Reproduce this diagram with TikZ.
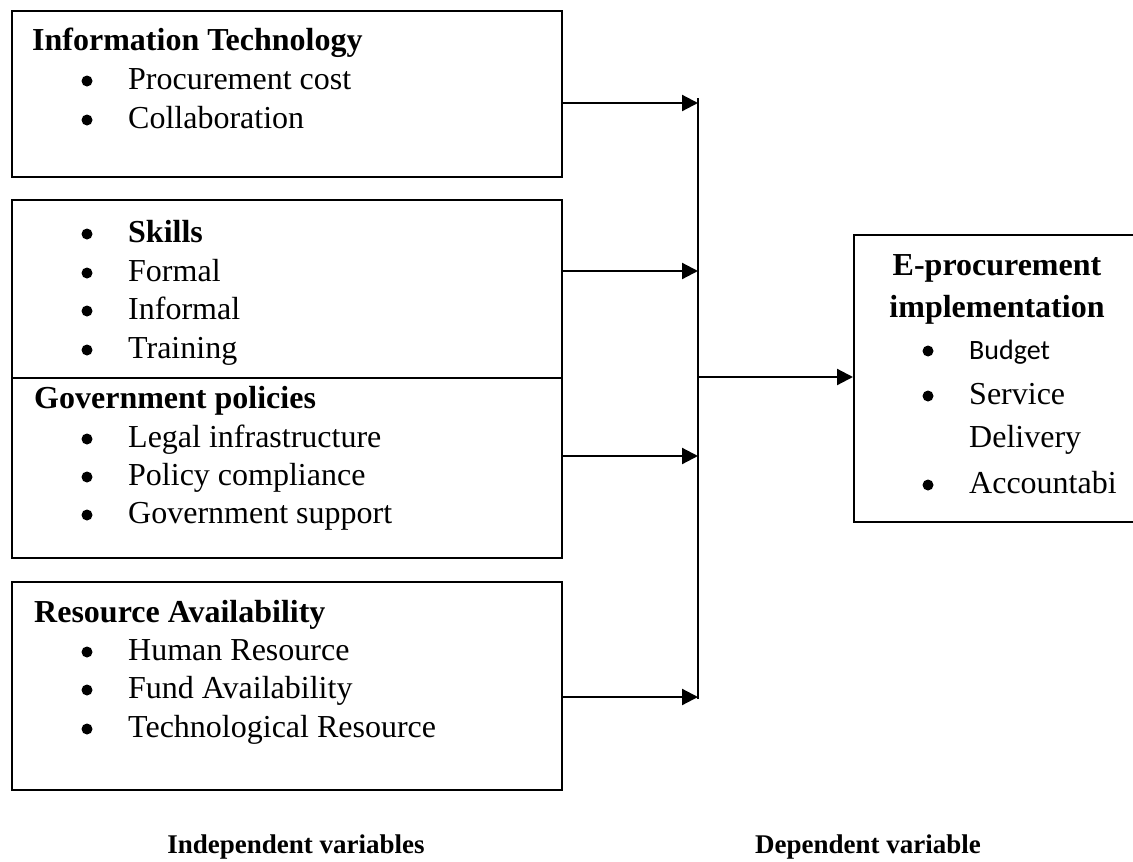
\documentclass[tikz,border=0pt]{standalone}
\usepackage{fontspec}
\setmainfont{Liberation Serif}
\newfontfamily\calib{Carlito}
\usepackage{tikz}
\usetikzlibrary{arrows.meta}

% one bullet line: name, baseline y, text
\newcommand{\itm}[4][87]{%
\node[bul] (#2b) at (#1,#3-8) {};
\node[txt] (#2) at (#1+41,#3) {#4};}

\begin{document}
\begin{tikzpicture}[x=1pt,y=-1pt,
box/.style={draw,line width=1.8pt,inner sep=0pt,anchor=north west},
txt/.style={anchor=base west,inner sep=0pt,font=\fontsize{32}{38}\selectfont},
hd/.style={txt,font=\fontsize{32}{38}\selectfont\bfseries},
bul/.style={circle,fill,inner sep=0pt,minimum size=11pt},
arr/.style={line width=2.2pt,-{Triangle[length=16pt,width=16pt]}},
foot/.style={anchor=base,inner sep=0pt,font=\fontsize{27}{32}\selectfont\bfseries}]
\useasboundingbox (0,0) rectangle (1133,862);
\clip (0,0) rectangle (1133,862);

% boxes on the left
\node[box,minimum width=550pt,minimum height=166pt] (it) at (11,10) {};
\node[box,minimum width=550pt,minimum height=178pt] (sk) at (11,199) {};
\node[box,minimum width=550pt,minimum height=180pt] (gp) at (11,377) {};
\node[box,minimum width=550pt,minimum height=208pt] (ra) at (11,581) {};
% box on the right
\node[box,minimum width=300pt,minimum height=287pt] (ep) at (853,234) {};

\node[hd] (ith) at (32,50) {Information Technology};
\itm{it1}{89}{Procurement cost}
\itm{it2}{128}{Collaboration}

\itm{sk1}{242}{\bfseries Skills}
\itm{sk2}{281}{Formal}
\itm{sk3}{319}{Informal}
\itm{sk4}{358}{Training}

\node[hd] (gph) at (34,408) {Government policies};
\itm{gp1}{447}{Legal infrastructure}
\itm{gp2}{485}{Policy compliance}
\itm{gp3}{523}{Government support}

\node[hd] (rah) at (34,622) {Resource Availability};
\itm{ra1}{660}{Human Resource}
\itm{ra2}{698}{Fund Availability}
\itm{ra3}{737}{Technological Resource}

\node[hd,anchor=base] (eph1) at (997,275) {E-procurement};
\node[hd,anchor=base] (eph2) at (997,317) {implementation};
\itm[928]{ep1}{359}{\calib\fontsize{28}{34}\selectfont Budget}
\itm[928]{ep2}{404}{Service}
\node[txt] (ep2a) at (969,447) {Delivery};
\itm[928]{ep3}{493}{Accountabi}

% connectors
\coordinate (vt) at (698,98);
\coordinate (vb) at (698,699);
\coordinate (j1) at (698,103);
\coordinate (j2) at (698,271);
\coordinate (j3) at (698,456);
\coordinate (j4) at (698,697);
\coordinate (jm) at (698,377);
\draw[line width=1.6pt] (vt) -- (vb);
\draw[arr] (j1 -| it.east) -- (j1);
\draw[arr] (j2 -| sk.east) -- (j2);
\draw[arr] (j3 -| gp.east) -- (j3);
\draw[arr] (j4 -| ra.east) -- (j4);
\draw[arr] (jm) -- (jm -| ep.west);

\node[foot] (iv) at (296,853) {Independent variables};
\node[foot] (dv) at (868,853) {Dependent variable};
\end{tikzpicture}
\end{document}
